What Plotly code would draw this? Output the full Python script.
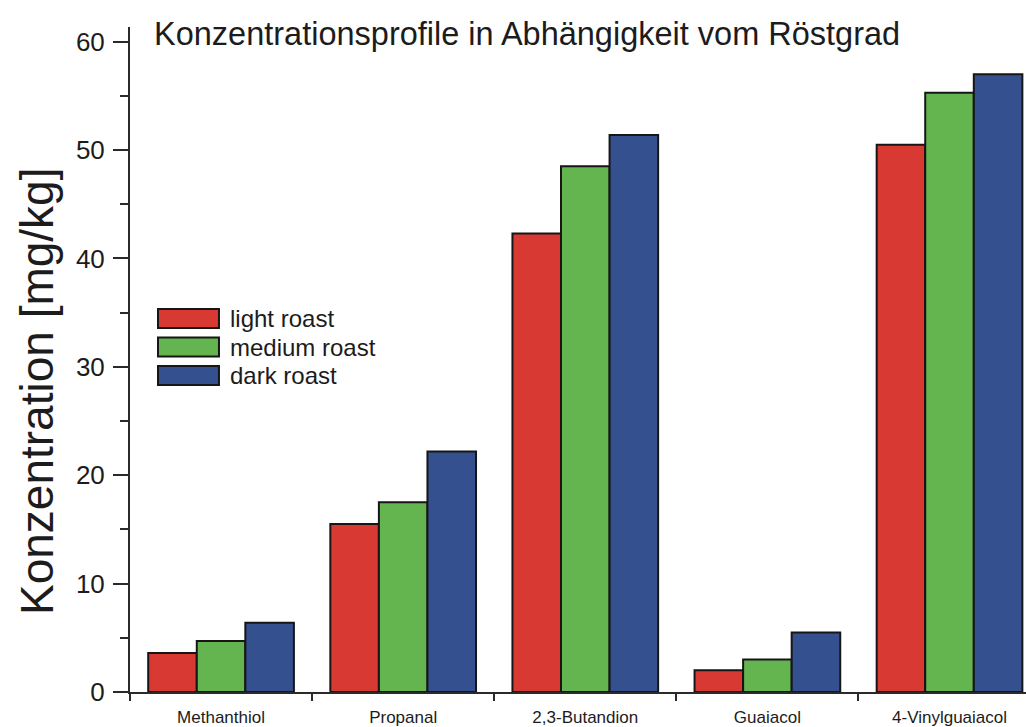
import plotly.graph_objects as go

# Aroma compounds and their concentrations (mg/kg) per roast degree
compounds = ["Methanthiol", "Propanal", "2,3-Butandion", "Guaiacol", "4-Vinylguaiacol"]
light_roast = [3.6, 15.5, 42.3, 2.0, 50.5]
medium_roast = [4.7, 17.5, 48.5, 3.0, 55.3]
dark_roast = [6.4, 22.2, 51.4, 5.5, 57.0]

series_names = ["light roast", "medium roast", "dark roast"]
series_values = [light_roast, medium_roast, dark_roast]
series_colors = ["#d83a33", "#64b44f", "#34508f"]

y_ticks = [0, 10, 20, 30, 40, 50, 60]

FONT = "Liberation Sans, Arial, Helvetica, sans-serif"
INK = "#1c1c1c"

fig = go.Figure()
for name, vals, color in zip(series_names, series_values, series_colors):
    fig.add_trace(go.Bar(
        x=compounds, y=vals, name=name,
        marker=dict(color=color, line=dict(color="#161616", width=2)),
        showlegend=False,
    ))

fig.update_layout(
    width=1026, height=727,
    margin=dict(l=130, r=0, t=27, b=35),
    paper_bgcolor="white", plot_bgcolor="white",
    barmode="group", bargap=0.2, bargroupgap=0,
    font=dict(family=FONT, color=INK),
)

fig.update_xaxes(
    type="category", range=[-0.5, 4.42],
    showline=True, linewidth=2, linecolor="#2a2a2a",
    ticks="outside", tickson="boundaries", ticklen=7, tickwidth=2, tickcolor="#2a2a2a",
    tickfont=dict(size=17, family=FONT, color=INK),
    ticklabelstandoff=9,
    showgrid=False, zeroline=False,
)
fig.update_yaxes(
    range=[0, 61.36], tickvals=y_ticks,
    showline=True, linewidth=2, linecolor="#2a2a2a",
    ticks="outside", ticklen=15, tickwidth=2, tickcolor="#2a2a2a",
    minor=dict(dtick=5, ticks="outside", ticklen=8, tickwidth=2, tickcolor="#2a2a2a"),
    tickfont=dict(size=26, family=FONT, color=INK),
    ticklabelstandoff=3,
    showgrid=False, zeroline=False,
)

# Chart title inside the plot area
fig.add_annotation(
    text="Konzentrationsprofile in Abhängigkeit vom Röstgrad",
    xref="paper", yref="paper", x=0.0245, y=0.9895,
    xanchor="left", yanchor="middle", showarrow=False,
    font=dict(size=32.5, family=FONT, color=INK),
)

# Vertical axis title
fig.add_annotation(
    text="Konzentration [mg/kg]",
    xref="paper", yref="paper", x=-0.1038, y=0.4526,
    xanchor="center", yanchor="middle", textangle=-90, showarrow=False,
    font=dict(size=46, family=FONT, color=INK),
)

# Legend: wide swatches with labels
for i, (name, color) in enumerate(zip(series_names, series_colors)):
    top_px = 309 + 28.5 * i
    y0 = (692 - (top_px + 19)) / 665
    y1 = (692 - top_px) / 665
    fig.add_shape(
        type="rect", xref="paper", yref="paper",
        x0=0.03125, x1=0.0993, y0=y0, y1=y1,
        fillcolor=color, line=dict(color="#161616", width=2),
    )
    fig.add_annotation(
        text=name, xref="paper", yref="paper",
        x=0.1094, y=(y0 + y1) / 2, xanchor="left", yanchor="middle",
        showarrow=False, font=dict(size=24, family=FONT, color=INK),
    )

fig.write_html("out.html")
